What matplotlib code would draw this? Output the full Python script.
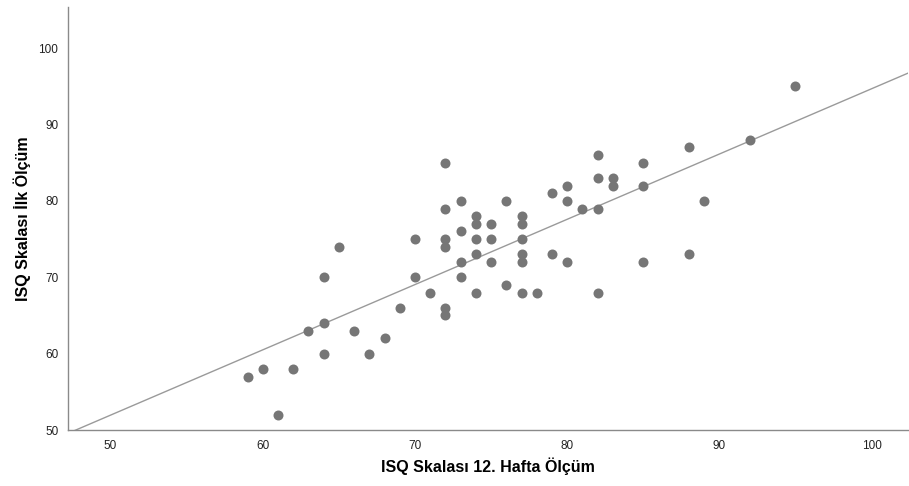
import numpy as np
import matplotlib.pyplot as plt

plt.rcParams['font.family'] = ['Liberation Sans', 'DejaVu Sans']

# ISQ scores: 12th week (x) vs first measurement (y)
week12 = [59, 60, 61, 62, 63, 64, 64, 64, 65, 66, 67, 68, 69, 70, 70, 71,
          72, 72, 72, 72, 72, 72,
          73, 73, 73, 73,
          74, 74, 74, 74, 74,
          75, 75, 75,
          76, 76,
          77, 77, 77, 77, 77, 77,
          78, 79, 79, 80, 80, 80, 81,
          82, 82, 82, 82, 83, 83,
          85, 85, 85, 88, 88, 89, 92, 95]
first = [57, 58, 52, 58, 63, 70, 64, 60, 74, 63, 60, 62, 66, 75, 70, 68,
         85, 79, 75, 74, 66, 65,
         80, 76, 72, 70,
         78, 77, 75, 73, 68,
         77, 75, 72,
         80, 69,
         78, 77, 75, 73, 72, 68,
         68, 81, 73, 82, 80, 72, 79,
         86, 83, 79, 68, 83, 82,
         85, 82, 72, 87, 73, 80, 88, 95]

x_ticks = [50, 60, 70, 80, 90, 100]
y_ticks = [50, 60, 70, 80, 90, 100]

fig = plt.figure(figsize=(9.09, 4.86), dpi=100)
ax = fig.add_axes([0.0748, 0.1152, 0.9242, 0.8704])

x = np.array(week12)
y = np.array(first)
slope, intercept = np.polyfit(x, y, 1)
xl = np.array([47.2, 102.4])
ax.plot(xl, slope * xl + intercept, color='#9a9a9a', linewidth=1.0, zorder=1)

ax.plot(x, y, 'o', color='#767676', markersize=7.2, markeredgewidth=0, zorder=2)

ax.set_xlim(47.2, 102.4)
ax.set_ylim(50, 105.4)
ax.set_xticks(x_ticks)
ax.set_yticks(y_ticks)
ax.tick_params(length=0, labelsize=8.5, labelcolor='#222222')
ax.tick_params(axis='x', pad=7)
ax.tick_params(axis='y', pad=7)

for side in ['top', 'right']:
    ax.spines[side].set_visible(False)
for side in ['left', 'bottom']:
    ax.spines[side].set_color('#8a8a8a')
    ax.spines[side].set_linewidth(1.0)

ax.set_xlabel('ISQ Skalası 12. Hafta Ölçüm', fontsize=11.5, fontweight='bold', labelpad=4)
ax.set_ylabel('ISQ Skalası İlk Ölçüm', fontsize=11.5, fontweight='bold', labelpad=5)

fig.savefig('out.png', dpi=100)
